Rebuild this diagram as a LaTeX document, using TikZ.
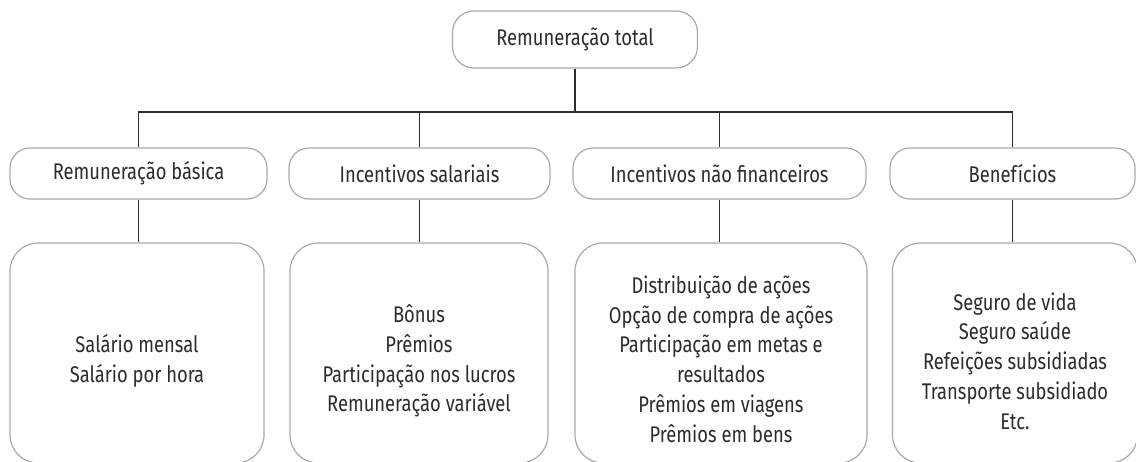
\documentclass[tikz,border=0pt]{standalone}
\usepackage{fontspec}
\setmainfont{Fira Sans}[FakeStretch=0.81]
\definecolor{txt}{HTML}{2C2C2C}
\definecolor{edge}{HTML}{A9A9A9}
\definecolor{wire}{HTML}{2E2E2E}
\begin{document}
\begin{tikzpicture}[x=0.75pt,y=-0.75pt,
  box/.style={draw=edge,line width=0.9pt,fill=white,text=txt,inner sep=0pt,align=center,
    font=\fontsize{17}{22.3}\selectfont},
  headbox/.style={box,rounded corners=15pt,minimum height=38.25pt},
  listbox/.style={box,rounded corners=21pt,minimum height=165pt},
  listtext/.style={text=txt,inner sep=0pt,align=center,font=\fontsize{17}{22.3}\selectfont},
  wirestyle/.style={draw=wire,line width=1.1pt}]
\useasboundingbox (0,0) rectangle (1136,461);
\node[box,rounded corners=16pt,minimum width=183.75pt,minimum height=42.75pt] (top) at (575,39.5) {Remuneração total};
\node[headbox,minimum width=192.75pt] (h1) at (138.5,173.5) {Remuneração básica};
\node[headbox,minimum width=195.75pt] (h2) at (419.5,173.5) {Incentivos salariais};
\node[headbox,minimum width=219.75pt] (h3) at (719.5,173.5) {Incentivos não financeiros};
\node[headbox,minimum width=183.75pt] (h4) at (1012.5,173.5) {Benefícios};
\node[listbox,minimum width=190.5pt] (b1) at (137,353) {};
\node[listbox,minimum width=193.5pt] (b2) at (419,353) {};
\node[listbox,minimum width=219pt] (b3) at (721,353) {};
\node[listbox,minimum width=183.75pt] (b4) at (1015,353) {};
\node[listtext] (t1) at (137,361) {Salário mensal\\Salário por hora};
\node[listtext] (t2) at (419,361) {Bônus\\Prêmios\\Participação nos lucros\\Remuneração variável};
\node[listtext] (t3) at (721,359) {Distribuição de ações\\Opção de compra de ações\\Participação em metas e\\resultados\\Prêmios em viagens\\Prêmios em bens};
\node[listtext] (t4) at (1015,361) {Seguro de vida\\Seguro saúde\\Refeições subsidiadas\\Transporte subsidiado\\Etc.};
\coordinate (bus) at (575,112);
\draw[wirestyle] (top.south) -- (bus);
\draw[wirestyle] (h1.north) -- (h1.north |- bus) -- (h4.north |- bus) -- (h4.north);
\draw[wirestyle] (h2.north) -- (h2.north |- bus);
\draw[wirestyle] (h3.north) -- (h3.north |- bus);
\draw[wirestyle] (h1.south) -- (h1.south |- b1.north);
\draw[wirestyle] (h2.south) -- (h2.south |- b2.north);
\draw[wirestyle] (h3.south) -- (h3.south |- b3.north);
\draw[wirestyle] (h4.south) -- (h4.south |- b4.north);
\end{tikzpicture}
\end{document}
